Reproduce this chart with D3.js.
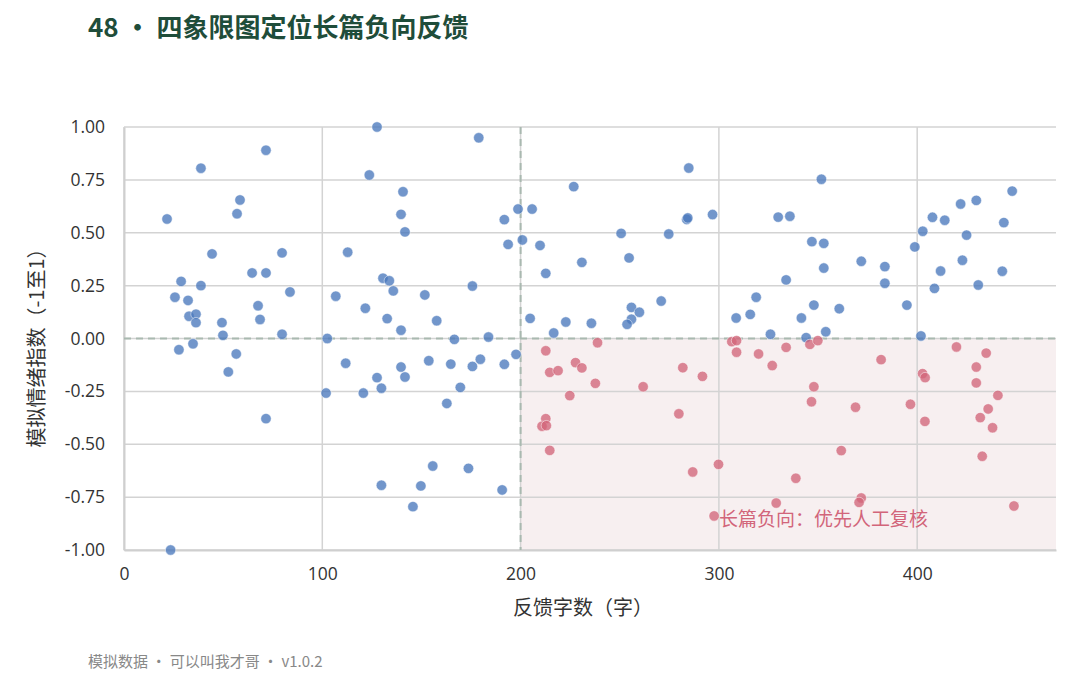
<!DOCTYPE html>
<html>
<head>
<meta charset="utf-8">
<script src="https://cdn.jsdelivr.net/npm/d3@7"></script>
<style>
  body { margin: 0; background: #fff; font-family: "Noto Sans CJK SC", "Noto Sans", sans-serif; }
  .grid line { stroke: #d3d3d3; stroke-width: 1.5; }
  .axis path, .axis line { stroke: #cfcfcf; }
  .axis text { fill: #333; font-size: 17.5px; font-family: "Open Sans", "Noto Sans", sans-serif; }
</style>
</head>
<body>
<div id="chart"></div>
<script>
// 反馈字数
var wordCount = [
  21.7, 25.7, 28.8, 27.7, 32.3, 32.8, 34.8, 36.3, 36.3, 38.8, 38.8, 44.4, 49.4, 49.9, 52.6, 56.6,
  57, 58.5, 64.6, 67.6, 68.6, 71.6, 71.6, 71.6, 79.7, 79.7, 83.7, 23.5,
  127.6, 123.7, 140.7, 139.7, 141.7, 112.8, 130.6, 133.8, 135.8, 151.7, 106.8, 121.7, 132.7, 157.7,
  139.7, 102.5, 111.8, 153.7, 139.7, 127.6, 141.7, 129.8, 101.9, 120.7, 155.7, 129.8, 149.7, 145.7,
  178.9, 191.8, 198.7, 200.9, 193.7, 212.7, 175.7, 183.8, 166.6, 164.8, 175.7, 179.7, 191.8, 197.7,
  169.6, 162.8, 173.7, 190.7, 205.8, 209.8, 226.8, 284.8, 283.8, 284.3, 296.8, 250.7, 274.7, 254.7,
  230.9, 270.9, 255.9, 259.9, 255.9, 253.7, 204.8, 222.8, 235.7, 216.7, 308.7, 315.8, 326, 344,
  353.9, 401.9, 351.7, 329.9, 335.8, 346.9, 352.9, 352.9, 371.8, 383.7, 383.7, 333.9, 318.8, 341.6,
  347.9, 360.7, 394.8, 398.8, 402.8, 407.7, 413.9, 421.9, 429.8, 447.9, 443.7, 424.9, 422.8, 411.8,
  442.9, 408.7, 430.8,
  212.7, 238.8, 227.7, 230.9, 214.7, 218.9, 237.7, 261.8, 281.8, 291.7, 224.8, 212.7, 210.8, 213,
  214.7, 279.8, 299.8, 286.8, 297.6, 306.5, 308.9, 308.9, 320, 326.9, 333.9, 345.9, 349.9, 347.9,
  346.7, 381.8, 368.9, 396.6, 402.7, 404, 403.9, 361.7, 338.8, 328.9, 371.8, 370.7, 419.8, 434.8,
  429.8, 429.8, 440.7, 435.8, 431.8, 438, 432.8, 448.8
];
// 模拟情绪指数
var sentiment = [
  0.565, 0.195, 0.27, -0.053, 0.18, 0.105, -0.025, 0.115, 0.075, 0.25, 0.805, 0.40, 0.075, 0.015, -0.158, -0.073,
  0.59, 0.655, 0.31, 0.155, 0.09, 0.89, 0.31, -0.379, 0.405, 0.02, 0.22, -1.0,
  1.0, 0.773, 0.694, 0.587, 0.504, 0.408, 0.285, 0.273, 0.225, 0.206, 0.2, 0.143, 0.094, 0.084,
  0.039, 0.0, -0.117, -0.105, -0.135, -0.185, -0.182, -0.235, -0.258, -0.258, -0.603, -0.694, -0.697, -0.795,
  0.949, 0.562, 0.612, 0.466, 0.445, 0.308, 0.248, 0.007, -0.004, -0.121, -0.132, -0.098, -0.122, -0.075,
  -0.231, -0.307, -0.614, -0.716, 0.612, 0.44, 0.718, 0.806, 0.563, 0.57, 0.586, 0.497, 0.494, 0.381,
  0.36, 0.177, 0.147, 0.124, 0.091, 0.067, 0.095, 0.078, 0.072, 0.026, 0.097, 0.114, 0.02, 0.004,
  0.032, 0.012, 0.753, 0.574, 0.578, 0.458, 0.45, 0.333, 0.365, 0.34, 0.261, 0.277, 0.195, 0.097,
  0.158, 0.141, 0.158, 0.433, 0.507, 0.573, 0.559, 0.636, 0.653, 0.697, 0.548, 0.489, 0.37, 0.319,
  0.318, 0.237, 0.253,
  -0.058, -0.02, -0.114, -0.139, -0.16, -0.152, -0.212, -0.228, -0.138, -0.179, -0.27, -0.379, -0.415, -0.412,
  -0.529, -0.356, -0.595, -0.631, -0.839, -0.015, -0.01, -0.065, -0.073, -0.128, -0.042, -0.028, -0.01, -0.228,
  -0.299, -0.1, -0.325, -0.311, -0.166, -0.185, -0.392, -0.53, -0.661, -0.778, -0.754, -0.775, -0.04, -0.069,
  -0.135, -0.21, -0.269, -0.333, -0.374, -0.422, -0.557, -0.792
];
var xTicks = [0, 100, 200, 300, 400];
var yTicks = [-1, -0.75, -0.5, -0.25, 0, 0.25, 0.5, 0.75, 1];
var lengthCut = 200;   // 长篇阈值
var moodCut = 0;       // 情绪分界

var W = 1080, H = 675;
var margin = { top: 127, right: 24, bottom: 125, left: 124 },
    width = W - margin.left - margin.right,
    height = H - margin.top - margin.bottom;

var svg = d3.select("#chart").append("svg")
    .attr("width", W)
    .attr("height", H);

svg.append("text")
    .attr("x", 88).attr("y", 37)
    .attr("fill", "#1f4d3a")
    .style("font-size", "26px")
    .style("font-weight", "bold")
    .text("48 • 四象限图定位长篇负向反馈");

var g = svg.append("g")
    .attr("transform", "translate(" + margin.left + "," + margin.top + ")");

var x = d3.scaleLinear().domain([0, 470]).range([0, width]);
var y = d3.scaleLinear().domain([-1, 1]).range([height, 0]);

// 右下象限底色
g.append("rect")
    .attr("x", x(lengthCut)).attr("y", y(moodCut))
    .attr("width", x(470) - x(lengthCut))
    .attr("height", y(-1) - y(moodCut))
    .attr("fill", "#f7eff0");

g.append("g").attr("class", "grid")
    .selectAll("line").data(xTicks).enter().append("line")
    .attr("x1", d => x(d)).attr("x2", d => x(d))
    .attr("y1", 0).attr("y2", height);

g.append("g").attr("class", "grid")
    .selectAll("line").data(yTicks).enter().append("line")
    .attr("x1", 0).attr("x2", width)
    .attr("y1", d => y(d)).attr("y2", d => y(d));

var xAxis = g.append("g").attr("class", "axis")
    .attr("transform", "translate(0," + height + ")")
    .call(d3.axisBottom(x).tickValues(xTicks).tickSize(0).tickPadding(18));
xAxis.select(".domain").attr("stroke-width", 2);

var fmt = d3.format(".2f");
var yAxis = g.append("g").attr("class", "axis")
    .call(d3.axisLeft(y).tickValues(yTicks)
        .tickFormat(d => fmt(d).replace("−", "-"))
        .tickSize(0).tickPadding(19));
yAxis.select(".domain").attr("stroke-width", 2);

// 分界虚线
g.append("line")
    .attr("x1", x(lengthCut)).attr("x2", x(lengthCut))
    .attr("y1", 0).attr("y2", height)
    .attr("stroke", "#a9b9b0").attr("stroke-width", 2)
    .attr("stroke-dasharray", "7,5");
g.append("line")
    .attr("x1", 0).attr("x2", width)
    .attr("y1", y(moodCut)).attr("y2", y(moodCut))
    .attr("stroke", "#a9b9b0").attr("stroke-width", 2)
    .attr("stroke-dasharray", "7,5");

var pts = wordCount.map(function (d, i) {
    return { len: d, mood: sentiment[i], hot: d >= lengthCut && sentiment[i] < moodCut };
});

g.append("g").selectAll("circle")
    .data(pts).enter().append("circle")
    .attr("cx", d => x(d.len))
    .attr("cy", d => y(d.mood))
    .attr("r", 5.2)
    .attr("fill", d => d.hot ? "#d2657a" : "#4a78bd")
    .attr("fill-opacity", 0.78)
    .attr("stroke", "#fff")
    .attr("stroke-opacity", 0.6)
    .attr("stroke-width", 0.8);

g.append("text")
    .attr("x", x(300)).attr("y", y(-0.853))
    .attr("dy", "0.35em")
    .attr("fill", "#d2657a")
    .style("font-size", "19px")
    .text("长篇负向：优先人工复核");

svg.append("text")
    .attr("x", 583).attr("y", 615)
    .attr("text-anchor", "middle")
    .attr("fill", "#333")
    .style("font-size", "20px")
    .text("反馈字数（字）");

svg.append("text")
    .attr("transform", "translate(44,343) rotate(-90)")
    .attr("text-anchor", "middle")
    .attr("fill", "#333")
    .style("font-size", "20px")
    .text("模拟情绪指数（-1至1）");

svg.append("text")
    .attr("x", 88).attr("y", 667)
    .attr("fill", "#888")
    .style("font-size", "15px")
    .text("模拟数据 · 可以叫我才哥 · v1.0.2");
</script>
</body>
</html>
